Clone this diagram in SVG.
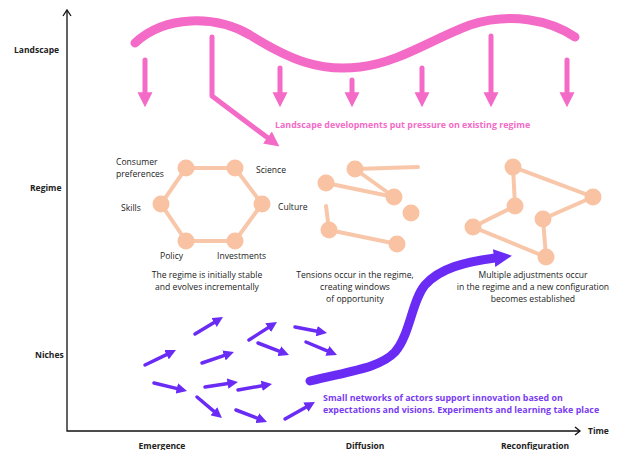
<svg xmlns="http://www.w3.org/2000/svg" width="620" height="450" viewBox="0 0 620 450">
<style>
.ax{font-family:"Open Sans","Noto Sans",sans-serif;font-weight:bold;font-size:8.5px;fill:#222}
.lb{font-family:"Open Sans","Noto Sans",sans-serif;font-size:8.6px;fill:#222}
.pk{font-family:"Open Sans","Noto Sans",sans-serif;font-weight:bold;font-size:8.9px;fill:#f36bc7}
.pu{font-family:"Open Sans","Noto Sans",sans-serif;font-weight:bold;font-size:8.9px;fill:#7a3cf2}
.pa{stroke:#f36bc7;stroke-width:5;fill:none;stroke-linecap:round;stroke-linejoin:round;marker-end:url(#ph)}
.sa{stroke:#6a2cf5;stroke-width:3.5;fill:none;stroke-linecap:round;marker-end:url(#sh)}
.ed{stroke:#f8c7aa;stroke-width:4;fill:none;stroke-linecap:round}
.nd{fill:#f9c2a2}
.axl{stroke:#111;stroke-width:1.3;fill:none}
</style>
<defs>
<marker id="ph" viewBox="0 0 10 10" refX="0.5" refY="5" markerWidth="3" markerHeight="3.2" orient="auto" markerUnits="strokeWidth"><path d="M0,0 L10,5 L0,10 z" fill="#f36bc7"/></marker>
<marker id="sh" viewBox="0 0 10 10" refX="0.5" refY="5" markerWidth="3" markerHeight="3" orient="auto" markerUnits="strokeWidth"><path d="M0,0 L10,5 L0,10 z" fill="#6a2cf5"/></marker>
<marker id="bh" viewBox="0 0 10 10" refX="0.5" refY="5" markerWidth="2" markerHeight="2.5" orient="auto" markerUnits="strokeWidth"><path d="M0,0 L10,5 L0,10 z" fill="#6a2cf5"/></marker>
</defs>
<rect width="620" height="450" fill="#fff"/>
<g id="axes">
<path class="axl" d="M67,11 V431 H580"/>
<path class="axl" d="M63,16 L67,10 L71,16"/>
<path class="axl" d="M575,427 L580,431 L575,435"/>
<text class="ax" x="588" y="434">Time</text>
<text class="ax" x="14" y="53">Landscape</text>
<text class="ax" x="30" y="191">Regime</text>
<text class="ax" x="35" y="358">Niches</text>
<text class="ax" x="162" y="449" text-anchor="middle">Emergence</text>
<text class="ax" x="365" y="449" text-anchor="middle">Diffusion</text>
<text class="ax" x="535" y="449" text-anchor="middle">Reconfiguration</text>
</g>
<g id="landscape">
<path d="M135,43 C165,15 215,15 250,35 C290,60 320,72 360,67 C400,62 430,40 470,25 C510,12 550,20 575,37" stroke="#f36bc7" stroke-width="9" fill="none" stroke-linecap="round"/>
<text class="pk" x="275" y="128">Landscape developments put pressure on existing regime</text>
</g>
<g id="connectors">
<line class="pa" x1="145" y1="60" x2="145" y2="93"/>
<line class="pa" x1="280" y1="68" x2="280" y2="93"/>
<line class="pa" x1="352" y1="80" x2="352" y2="93"/>
<line class="pa" x1="422" y1="68" x2="422" y2="93"/>
<line class="pa" x1="491" y1="36" x2="491" y2="93"/>
<line class="pa" x1="567" y1="60" x2="567" y2="93"/>
<polyline class="pa" points="212,37 212,96 268,138"/>
<path d="M310,381 C350,371 380,368 395,352 C410,335 412,300 425,285 C440,268 465,262 495,258" stroke="#6a2cf5" stroke-width="9" fill="none" stroke-linecap="round" marker-end="url(#bh)"/>
<line class="sa" x1="195" y1="334" x2="214.5" y2="322.2"/>
<line class="sa" x1="145" y1="365" x2="167" y2="354.4"/>
<line class="sa" x1="202" y1="363" x2="224.5" y2="355.3"/>
<line class="sa" x1="249" y1="340" x2="268.6" y2="327.4"/>
<line class="sa" x1="295" y1="327" x2="317.2" y2="331.2"/>
<line class="sa" x1="258" y1="343" x2="279.7" y2="351.4"/>
<line class="sa" x1="306" y1="342" x2="327.8" y2="351.1"/>
<line class="sa" x1="154" y1="383" x2="177.3" y2="388.6"/>
<line class="sa" x1="205" y1="387" x2="228.1" y2="383.5"/>
<line class="sa" x1="238" y1="390" x2="262.2" y2="385.7"/>
<line class="sa" x1="197" y1="397" x2="214.3" y2="411.6"/>
<line class="sa" x1="236" y1="410" x2="257.7" y2="418.4"/>
<line class="sa" x1="285" y1="419" x2="306.3" y2="406.9"/>
</g>
<g id="regime-stable">
<polygon class="ed" points="186,168 235,168 262,204 235,241 186,241 161,204"/>
<circle class="nd" cx="186" cy="168" r="8.5"/>
<circle class="nd" cx="235" cy="168" r="8.5"/>
<circle class="nd" cx="262" cy="204" r="8.5"/>
<circle class="nd" cx="235" cy="241" r="8.5"/>
<circle class="nd" cx="186" cy="241" r="8.5"/>
<circle class="nd" cx="161" cy="204" r="8.5"/>
<text class="lb" x="116" y="165">Consumer</text>
<text class="lb" x="116" y="177">preferences</text>
<text class="lb" x="256" y="173">Science</text>
<text class="lb" x="121" y="211">Skills</text>
<text class="lb" x="278" y="210">Culture</text>
<text class="lb" x="160" y="259">Policy</text>
<text class="lb" x="217" y="259">Investments</text>
<text class="lb" x="207" y="278" text-anchor="middle">The regime is initially stable</text>
<text class="lb" x="207" y="290" text-anchor="middle">and evolves incrementally</text>
</g>
<g id="regime-tension">
<line class="ed" x1="355" y1="169" x2="418" y2="167"/>
<line class="ed" x1="326" y1="183" x2="394" y2="197"/>
<line class="ed" x1="355" y1="169" x2="394" y2="197"/>
<line class="ed" x1="326" y1="206" x2="329" y2="230"/>
<line class="ed" x1="329" y1="230" x2="397" y2="244"/>
<circle class="nd" cx="355" cy="169" r="8.5"/>
<circle class="nd" cx="326" cy="183" r="8.5"/>
<circle class="nd" cx="394" cy="197" r="8.5"/>
<circle class="nd" cx="411" cy="213" r="8.5"/>
<circle class="nd" cx="329" cy="230" r="8.5"/>
<circle class="nd" cx="397" cy="244" r="8.5"/>
<text class="lb" x="355" y="278" text-anchor="middle">Tensions occur in the regime,</text>
<text class="lb" x="355" y="290" text-anchor="middle">creating windows</text>
<text class="lb" x="355" y="302" text-anchor="middle">of opportunity</text>
</g>
<g id="regime-new">
<polyline class="ed" points="515,206 513,167 593,197 543,219 546,257 473,227 515,206"/>
<circle class="nd" cx="513" cy="167" r="8.5"/>
<circle class="nd" cx="593" cy="197" r="8.5"/>
<circle class="nd" cx="515" cy="206" r="8.5"/>
<circle class="nd" cx="543" cy="219" r="8.5"/>
<circle class="nd" cx="473" cy="227" r="8.5"/>
<circle class="nd" cx="546" cy="257" r="8.5"/>
<text class="lb" x="533" y="278" text-anchor="middle">Multiple adjustments occur</text>
<text class="lb" x="533" y="290" text-anchor="middle">in the regime and a new configuration</text>
<text class="lb" x="533" y="302" text-anchor="middle">becomes established</text>
</g>
<g id="niches">
<text class="pu" x="323" y="401">Small networks of actors support innovation based on</text>
<text class="pu" x="323" y="413">expectations and visions. Experiments and learning take place</text>
</g>
</svg>
